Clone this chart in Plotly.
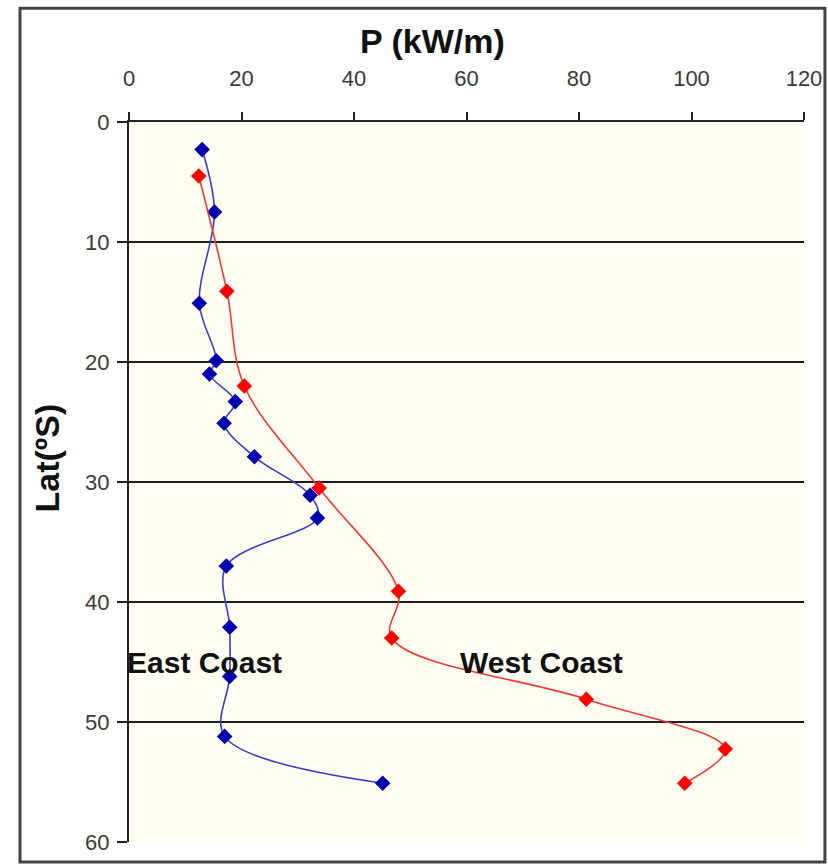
import plotly.graph_objects as go

# East Coast series
east_lat = [2.3, 7.5, 15.1, 19.9, 21.0, 23.3, 25.1, 27.9, 31.1, 33.0, 37.0, 42.1, 46.2, 51.2, 55.1]
east_p = [13.0, 15.2, 12.5, 15.5, 14.3, 18.9, 16.9, 22.3, 32.2, 33.5, 17.3, 17.9, 17.9, 17.0, 45.1]

# West Coast series
west_lat = [4.5, 14.1, 22.0, 30.5, 39.1, 43.0, 48.1, 52.25, 55.1]
west_p = [12.4, 17.4, 20.5, 33.8, 47.9, 46.7, 81.3, 106.0, 98.8]

x_ticks = [0, 20, 40, 60, 80, 100, 120]
y_ticks = [0, 10, 20, 30, 40, 50, 60]

FONT = "Liberation Sans, Arial, sans-serif"

fig = go.Figure()
fig.add_trace(go.Scatter(
    x=east_p, y=east_lat, mode="lines+markers", name="East Coast",
    line=dict(color="#3b3bd0", width=1.6, shape="spline", smoothing=1),
    marker=dict(symbol="diamond", size=12, color="#0000b0"),
))
fig.add_trace(go.Scatter(
    x=west_p, y=west_lat, mode="lines+markers", name="West Coast",
    line=dict(color="#f03a3a", width=1.6, shape="spline", smoothing=1),
    marker=dict(symbol="diamond", size=12, color="#ff0000"),
))

fig.update_layout(
    width=828, height=866,
    margin=dict(l=129, r=24, t=122, b=24),
    paper_bgcolor="white",
    plot_bgcolor="#fffef0",
    showlegend=False,
    font=dict(family=FONT, color="#333"),
    xaxis=dict(
        side="top", range=[0, 120], tickvals=x_ticks,
        showgrid=False, zeroline=False, automargin=False,
        showline=True, linecolor="#222", linewidth=2,
        ticks="outside", ticklen=8, tickwidth=2, tickcolor="#222",
        tickfont=dict(size=22, color="#3a3a3a", family=FONT),
        ticklabelstandoff=17,
    ),
    yaxis=dict(
        range=[60, 0], tickvals=y_ticks,
        showgrid=True, gridcolor="#1e1e1e", gridwidth=2,
        zeroline=False, automargin=False,
        showline=True, linecolor="#222", linewidth=2,
        ticks="outside", ticklen=10, tickwidth=2, tickcolor="#222",
        tickfont=dict(size=22, color="#3a3a3a", family=FONT),
        ticklabelstandoff=3,
    ),
    annotations=[
        dict(text="<b>P (kW/m)</b>", xref="paper", yref="paper",
             x=0.449, y=1.113, xanchor="center", yanchor="middle", showarrow=False,
             font=dict(size=34, color="#111", family=FONT)),
        dict(text="<b>Lat(ºS)</b>", xref="paper", yref="paper",
             x=-0.1215, y=0.534, xanchor="center", yanchor="middle",
             showarrow=False, textangle=-90,
             font=dict(size=34, color="#111", family=FONT)),
        dict(text="<b>East Coast</b>", x=13.4, y=45.0, xanchor="center", yanchor="middle",
             showarrow=False, font=dict(size=30, color="#111", family=FONT)),
        dict(text="<b>West Coast</b>", x=73.4, y=45.0, xanchor="center", yanchor="middle",
             showarrow=False, font=dict(size=30, color="#111", family=FONT)),
    ],
    shapes=[
        dict(type="rect", xref="paper", yref="paper",
             x0=-0.1615, x1=1.031, y0=-0.0278, y1=1.158,
             line=dict(color="#444", width=3), layer="below"),
    ],
)

fig.write_html(
    "out.html",
    config={"displayModeBar": False},
    post_script="document.body.style.margin='0';document.body.style.overflow='hidden';",
)
